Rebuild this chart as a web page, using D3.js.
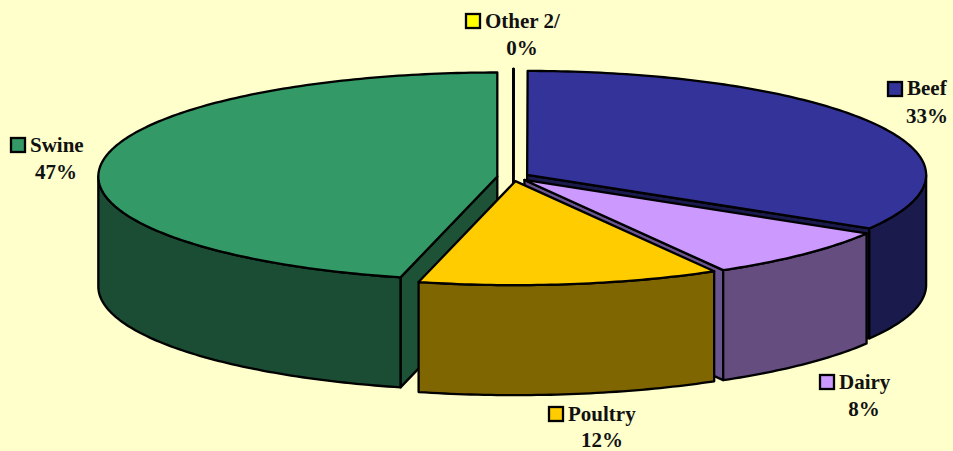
<!DOCTYPE html>
<html>
<head>
<meta charset="utf-8">
<script src="https://cdn.jsdelivr.net/npm/d3@7"></script>
<style>
  body { margin: 0; background: #FFFFCC; }
  svg { display: block; }
  text { font-family: "Liberation Serif", serif; font-weight: bold; font-size: 21px; fill: #111; }
</style>
</head>
<body>
<script>
const categories = ["Other 2/", "Beef", "Dairy", "Poultry", "Swine"];
// share of the circle, printed labels are rounded differently
const shares = [0.02, 33.58, 8.1, 12.2, 46.1];
const percentLabels = ["0%", "33%", "8%", "12%", "47%"];
const topColors = ["#FFFF00", "#333399", "#CC99FF", "#FFCC00", "#339966"];
const sideColors = ["#808000", "#1A1A4D", "#664D80", "#806600", "#1A4D33"];
const cutColors = ["#808000", "#1A1A4D", "#6B5590", "#806600", "#1D5236"];

const width = 953, height = 451;
const cx = 513.2, cy = 177, rx = 399, ry = 104;
const depth = 110, explode = 16;

// painter's order, back to front
const drawOrder = [0, 4, 1, 2, 3];

// where each legend entry sits
const labelSpots = [
    { sx: 466, sy: 14, tx: 485, ty: 28, px: 522, py: 55 },
    { sx: 888, sy: 82, tx: 907, ty: 95, px: 927, py: 123 },
    { sx: 820, sy: 375, tx: 839, ty: 389, px: 864, py: 416 },
    { sx: 549, sy: 407, tx: 568, ty: 421, px: 602, py: 447 },
    { sx: 11, sy: 138, tx: 30, ty: 152, px: 56, py: 179 }
];

const x = d3.scaleLinear().domain([-1, 1]).range([cx - rx, cx + rx]);
const y = d3.scaleLinear().domain([-1, 1]).range([cy - ry, cy + ry]);

const pie = d3.pie().value(d => d).sort(null);
const slices = pie(shares);
const line = d3.line();

const svg = d3.select("body")
    .append("svg")
    .attr("width", width)
    .attr("height", height);

svg.append("rect")
    .attr("width", width)
    .attr("height", height)
    .attr("fill", "#FFFFCC");

// point on the rim, a in radians clockwise from the top
function rim(a, off, drop) {
    return [x(Math.sin(a)) + off[0], y(-Math.cos(a)) + off[1] + drop];
}

function arcPoints(a0, a1, off, drop) {
    const n = Math.max(2, Math.ceil((a1 - a0) * 60));
    return d3.range(n + 1).map(i => rim(a0 + (a1 - a0) * i / n, off, drop));
}

function addFace(g, pts, fill) {
    g.append("path")
        .attr("d", line(pts) + "Z")
        .attr("fill", fill)
        .attr("stroke", "#000")
        .attr("stroke-width", 2.3)
        .attr("stroke-linejoin", "round");
}

function cutFace(g, a, off, fill) {
    const apex = [cx + off[0], cy + off[1]];
    const r = rim(a, off, 0);
    addFace(g, [apex, r, [r[0], r[1] + depth], [apex[0], apex[1] + depth]], fill);
}

const sliceGroups = svg.append("g");

drawOrder.forEach(i => {
    const s = slices[i];
    const mid = (s.startAngle + s.endAngle) / 2;
    const off = [Math.sin(mid) * explode, -Math.cos(mid) * explode * ry / rx];
    const g = sliceGroups.append("g");

    // cut faces only show when they turn towards the viewer
    if (Math.cos(s.startAngle - Math.PI / 2) < -1e-6) cutFace(g, s.startAngle, off, cutColors[i]);
    if (Math.cos(s.endAngle + Math.PI / 2) < -1e-6) cutFace(g, s.endAngle, off, cutColors[i]);
    if (i === 0) cutFace(g, s.startAngle, off, cutColors[i]);

    // outer wall, front half of the rim only
    const w0 = Math.max(s.startAngle, Math.PI / 2);
    const w1 = Math.min(s.endAngle, Math.PI * 1.5);
    if (w1 > w0) {
        const upper = arcPoints(w0, w1, off, 0);
        const lower = arcPoints(w0, w1, off, depth).reverse();
        addFace(g, upper.concat(lower), sideColors[i]);
    }

    // top
    const apex = [cx + off[0], cy + off[1]];
    addFace(g, [apex].concat(arcPoints(s.startAngle, s.endAngle, off, 0)), topColors[i]);
});

const labels = svg.selectAll("g.label")
    .data(categories)
    .enter().append("g")
    .attr("class", "label");

labels.append("rect")
    .attr("x", (d, i) => labelSpots[i].sx)
    .attr("y", (d, i) => labelSpots[i].sy)
    .attr("width", 14)
    .attr("height", 14)
    .attr("fill", (d, i) => topColors[i])
    .attr("stroke", "#000")
    .attr("stroke-width", 2.3);

labels.append("text")
    .attr("x", (d, i) => labelSpots[i].tx)
    .attr("y", (d, i) => labelSpots[i].ty)
    .text(d => d);

labels.append("text")
    .attr("x", (d, i) => labelSpots[i].px)
    .attr("y", (d, i) => labelSpots[i].py)
    .attr("text-anchor", "middle")
    .text((d, i) => percentLabels[i]);
</script>
</body>
</html>
